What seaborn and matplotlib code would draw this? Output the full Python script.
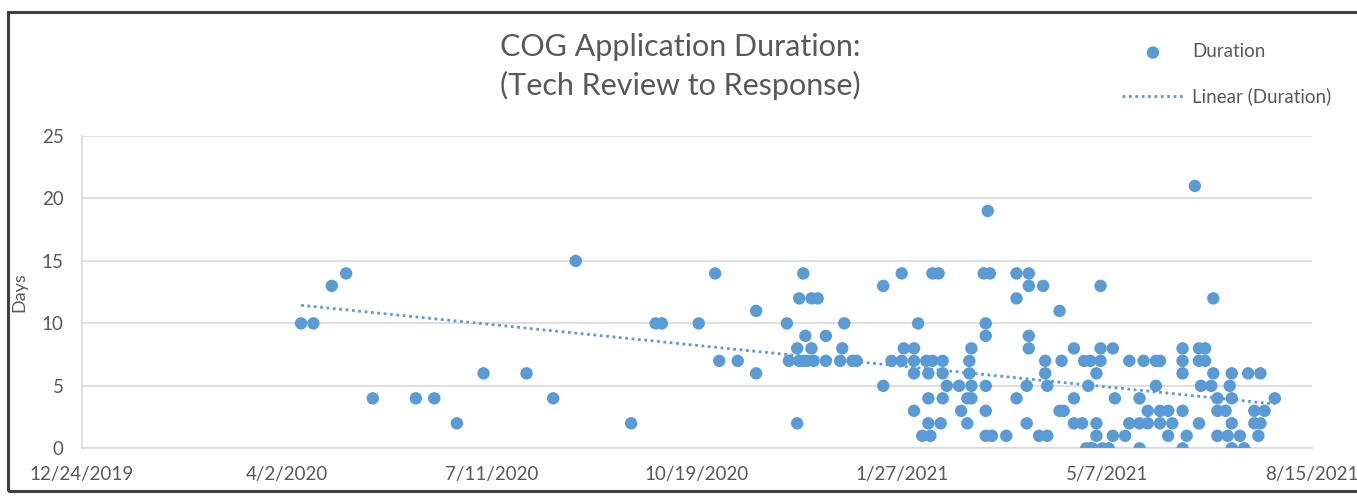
import matplotlib
matplotlib.use("Agg")
import matplotlib.pyplot as plt
import matplotlib.dates as mdates
import matplotlib.patches as mpatches
import pandas as pd
import seaborn as sns

# Tech-review date of each COG application and the days until response
review_dates = [
    "2020-04-09", "2020-04-15", "2020-04-24", "2020-05-01", "2020-05-14", "2020-06-04",
    "2020-06-13", "2020-06-24", "2020-07-07", "2020-07-28", "2020-08-10", "2020-08-21",
    "2020-09-17", "2020-09-29", "2020-10-02", "2020-10-20", "2020-10-28", "2020-10-30",
    "2020-11-08", "2020-11-17", "2020-11-17",
    "2020-12-02", "2020-12-03", "2020-12-07", "2020-12-07", "2020-12-08", "2020-12-08",
    "2020-12-10", "2020-12-10", "2020-12-11", "2020-12-12", "2020-12-14", "2020-12-14",
    "2020-12-15", "2020-12-17", "2020-12-21", "2020-12-21", "2020-12-28", "2020-12-29",
    "2020-12-30",
    "2021-01-03", "2021-01-05", "2021-01-18", "2021-01-18", "2021-01-22", "2021-01-27",
    "2021-01-27", "2021-01-28",
    "2021-02-02", "2021-02-02", "2021-02-02", "2021-02-02", "2021-02-04", "2021-02-06",
    "2021-02-08", "2021-02-09", "2021-02-09", "2021-02-09", "2021-02-10", "2021-02-11",
    "2021-02-11", "2021-02-14", "2021-02-15", "2021-02-16", "2021-02-16", "2021-02-16",
    "2021-02-18", "2021-02-24", "2021-02-25", "2021-02-28", "2021-02-28",
    "2021-03-01", "2021-03-01", "2021-03-02", "2021-03-02", "2021-03-02", "2021-03-08",
    "2021-03-09", "2021-03-09", "2021-03-09", "2021-03-09", "2021-03-09", "2021-03-10",
    "2021-03-11", "2021-03-12", "2021-03-19", "2021-03-24", "2021-03-24", "2021-03-24",
    "2021-03-29", "2021-03-29", "2021-03-30", "2021-03-30", "2021-03-30", "2021-03-30",
    "2021-04-04", "2021-04-06", "2021-04-07", "2021-04-07", "2021-04-08", "2021-04-08",
    "2021-04-14", "2021-04-14", "2021-04-15", "2021-04-16", "2021-04-21", "2021-04-21",
    "2021-04-21", "2021-04-25", "2021-04-26", "2021-04-27", "2021-04-28", "2021-04-29",
    "2021-04-29", "2021-04-30",
    "2021-05-02", "2021-05-02", "2021-05-02", "2021-05-04", "2021-05-04", "2021-05-04",
    "2021-05-05", "2021-05-08", "2021-05-10", "2021-05-10", "2021-05-11", "2021-05-16",
    "2021-05-18", "2021-05-18", "2021-05-23", "2021-05-23", "2021-05-23", "2021-05-25",
    "2021-05-27", "2021-05-27", "2021-05-31", "2021-05-31",
    "2021-06-02", "2021-06-02", "2021-06-02", "2021-06-06", "2021-06-06", "2021-06-08",
    "2021-06-13", "2021-06-13", "2021-06-13", "2021-06-13", "2021-06-13", "2021-06-15",
    "2021-06-19", "2021-06-21", "2021-06-21", "2021-06-21", "2021-06-22", "2021-06-24",
    "2021-06-24", "2021-06-27", "2021-06-28", "2021-06-28", "2021-06-30", "2021-06-30",
    "2021-06-30",
    "2021-07-04", "2021-07-05", "2021-07-06", "2021-07-07", "2021-07-07", "2021-07-07",
    "2021-07-07", "2021-07-11", "2021-07-13", "2021-07-15", "2021-07-18", "2021-07-18",
    "2021-07-20", "2021-07-21", "2021-07-21", "2021-07-23", "2021-07-28",
]
durations = [
    10, 10, 13, 14, 4, 4,
    4, 2, 6, 6, 4, 15,
    2, 10, 10, 10, 14, 7,
    7, 11, 6,
    10, 7, 2, 8, 12, 7,
    14, 7, 9, 7, 12, 8,
    7, 12, 9, 7, 7, 8,
    10,
    7, 7, 13, 5, 7, 14,
    7, 8,
    8, 7, 6, 3, 10, 1,
    7, 6, 4, 2, 1, 14,
    7, 14, 2, 7, 6, 4,
    5, 5, 3, 2, 4,
    7, 6, 8, 5, 4, 14,
    10, 9, 5, 3, 1, 19,
    14, 1, 1, 14, 12, 4,
    5, 2, 14, 13, 9, 8,
    1, 13, 7, 6, 5, 1,
    11, 3, 7, 3, 8, 4,
    2, 2, 7, 0, 5, 7,
    0, 0,
    6, 2, 1, 13, 8, 7,
    0, 0, 8, 1, 4, 1,
    7, 2, 4, 2, 0, 7,
    3, 2, 7, 5,
    7, 3, 2, 3, 1, 2,
    8, 7, 6, 3, 0, 1,
    21, 8, 7, 2, 5, 8,
    7, 5, 12, 6, 4, 3,
    1,
    3, 1, 5, 6, 4, 2,
    0, 1, 0, 6, 3, 2,
    1, 6, 2, 3, 4,
]

# Linear trend of duration, evaluated at the first and last review dates
trend_dates = ["2020-04-09", "2021-07-28"]
trend_days = [11.45, 3.55]

x_tick_labels = ["12/24/2019", "4/2/2020", "7/11/2020", "10/19/2020",
                 "1/27/2021", "5/7/2021", "8/15/2021"]
y_ticks = [0, 5, 10, 15, 20, 25]

title_text = "COG Application Duration:\n(Tech Review to Response)"
y_label = "Days"
series_label = "Duration"
trend_label = "Linear (Duration)"

BLUE = "#5B9BD5"
TEXT = "#595959"
GRID = "#D9D9D9"

sns.set_style("white")
plt.rcParams["font.family"] = ["Lato", "DejaVu Sans"]

df = pd.DataFrame({"date": pd.to_datetime(review_dates), "days": durations})
df["x"] = mdates.date2num(df["date"])
trend = pd.DataFrame({"x": mdates.date2num(pd.to_datetime(trend_dates)),
                      "days": trend_days})
tick_pos = mdates.date2num(pd.to_datetime(x_tick_labels, format="%m/%d/%Y"))

fig = plt.figure(figsize=(13.57, 4.98), dpi=100)
ax = fig.add_axes([81.7 / 1357, 49.7 / 498, 1230 / 1357, 312.3 / 498])

sns.scatterplot(data=df, x="x", y="days", ax=ax, s=80, color=BLUE,
                edgecolor="none", linewidth=0, label=series_label, zorder=3)
sns.lineplot(data=trend, x="x", y="days", ax=ax, color=BLUE, lw=2.0,
             linestyle=(0, (1, 1.3)), label=trend_label, zorder=4)

ax.set_xlim(tick_pos[0], tick_pos[-1])
ax.set_ylim(0, 25)
ax.set_xticks(tick_pos)
ax.set_xticklabels(x_tick_labels)
ax.set_yticks(y_ticks)
ax.tick_params(axis="both", length=0, labelsize=13.5, labelcolor=TEXT)
ax.tick_params(axis="x", pad=13)
ax.tick_params(axis="y", pad=13)
ax.yaxis.grid(True, color=GRID, lw=1.2)
ax.xaxis.grid(False)
for side in ("top", "right"):
    ax.spines[side].set_visible(False)
for side in ("left", "bottom"):
    ax.spines[side].set_color(GRID)
    ax.spines[side].set_linewidth(1.2)

ax.set_xlabel("")
ax.set_ylabel(y_label, fontsize=13, color=TEXT)
ax.yaxis.set_label_coords(-0.044, 0.5)

fig.text(0.501, 0.867, title_text, ha="center", va="center",
         fontsize=22, color=TEXT, linespacing=1.4)

handles, labels = ax.get_legend_handles_labels()
if ax.legend_:
    ax.legend_.remove()
fig.legend(handles, labels, loc="center left",
           bbox_to_anchor=(1122 / 1357, 1 - 74.5 / 498), frameon=False,
           fontsize=13.5, labelcolor=TEXT, handlelength=3.3,
           handletextpad=0.45, labelspacing=1.45, borderpad=0,
           borderaxespad=0, markerscale=1.0)

# dark outer frame around the chart area
frame = mpatches.Rectangle((8 / 1357, 7 / 498), 1.2, 479 / 498,
                           transform=fig.transFigure, fill=False,
                           edgecolor="#404040", lw=2.2, clip_on=False)
fig.patches.append(frame)

fig.savefig("out.png", dpi=100)
